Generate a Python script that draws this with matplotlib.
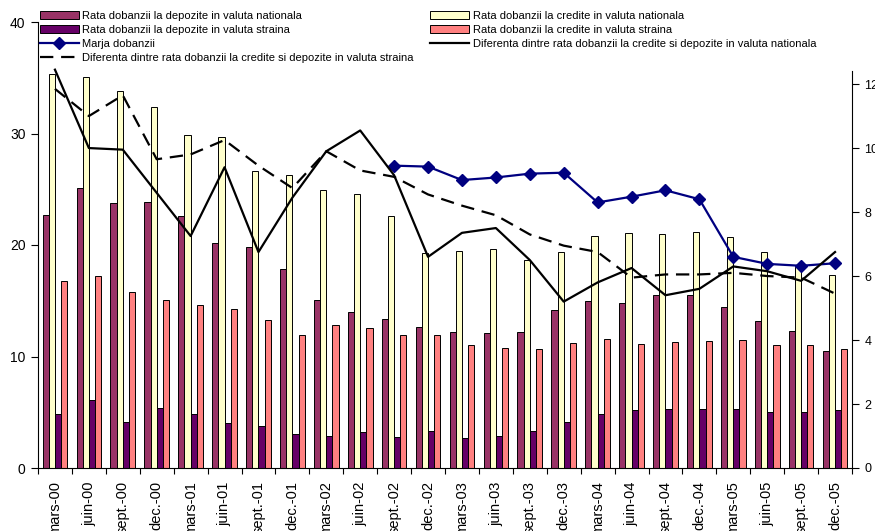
import matplotlib
matplotlib.use("Agg")
import matplotlib.pyplot as plt
import numpy as np

plt.rcParams['font.family'] = ['Liberation Sans', 'DejaVu Sans']

perioade = ['mars-00', 'juin-00', 'sept.-00', 'dec.-00',
            'mars-01', 'juin-01', 'sept.-01', 'dec.-01',
            'mars-02', 'juin-02', 'sept.-02', 'dec.-02',
            'mars-03', 'juin-03', 'sept.-03', 'dec.-03',
            'mars-04', 'juin-04', 'sept.-04', 'dec.-04',
            'mars-05', 'juin-05', 'sept.-05', 'dec.-05']

# rate (%), axa stanga
dep_nat = [22.7, 25.1, 23.8, 23.9, 22.6, 20.2, 19.8, 17.85,
           15.1, 14.0, 13.4, 12.65, 12.2, 12.1, 12.2, 14.2,
           15.0, 14.8, 15.5, 15.5, 14.4, 13.2, 12.3, 10.5]
cred_nat = [35.3, 35.1, 33.8, 32.4, 29.9, 29.65, 26.6, 26.25,
            24.9, 24.55, 22.6, 19.3, 19.5, 19.6, 18.65, 19.4,
            20.8, 21.1, 20.95, 21.15, 20.7, 19.4, 18.0, 17.3]
dep_str = [4.85, 6.1, 4.15, 5.4, 4.8, 4.0, 3.8, 3.05,
           2.9, 3.25, 2.8, 3.3, 2.7, 2.9, 3.3, 4.15,
           4.8, 5.2, 5.25, 5.25, 5.25, 5.05, 5.05, 5.2]
cred_str = [16.8, 17.2, 15.8, 15.1, 14.65, 14.3, 13.3, 11.9,
            12.8, 12.6, 11.95, 11.9, 11.0, 10.8, 10.65, 11.2,
            11.6, 11.1, 11.3, 11.35, 11.45, 11.05, 11.05, 10.65]

# diferente (pp), axa dreapta
dif_nat = [12.45, 10.0, 9.95, 8.6, 7.25, 9.4, 6.75, 8.45,
           9.9, 10.55, 9.15, 6.6, 7.35, 7.5, 6.5, 5.2,
           5.8, 6.25, 5.4, 5.6, 6.3, 6.15, 5.85, 6.75]
dif_str = [11.85, 11.0, 11.65, 9.65, 9.8, 10.25, 9.45, 8.75,
           9.9, 9.3, 9.1, 8.55, 8.2, 7.9, 7.3, 6.95,
           6.75, 5.95, 6.05, 6.05, 6.1, 6.0, 5.95, 5.45]
marja = [None] * 10 + [9.45, 9.42, 9.0, 9.08, 9.2, 9.23,
                       8.3, 8.48, 8.68, 8.4, 6.6, 6.38, 6.32, 6.4]

fig = plt.figure(figsize=(8.75, 5.31), dpi=100)
ax = fig.add_axes([38/875, 63/531, 814/875, 446/531])
ax2 = ax.twinx()

x = np.arange(len(perioade))
w = 0.182
ax.bar(x - 1.5*w, dep_nat, w, color='#993366', edgecolor='black', linewidth=0.7,
       label='Rata dobanzii la depozite in valuta nationala')
ax.bar(x - 0.5*w, cred_nat, w, color='#FFFFCC', edgecolor='black', linewidth=0.7,
       label='Rata dobanzii la credite in valuta nationala')
ax.bar(x + 0.5*w, dep_str, w, color='#660066', edgecolor='black', linewidth=0.7,
       label='Rata dobanzii la depozite in valuta straina')
ax.bar(x + 1.5*w, cred_str, w, color='#FF8080', edgecolor='black', linewidth=0.7,
       label='Rata dobanzii la credite in valuta straina')

marja_y = np.array([np.nan if v is None else v for v in marja])
ax2.plot(x, marja_y, color='#000080', lw=1.6, marker='D', ms=6,
         label='Marja dobanzii')
ax2.plot(x, dif_nat, color='black', lw=1.6,
         label='Diferenta dintre rata dobanzii la credite si depozite in valuta nationala')
ax2.plot(x, dif_str, color='black', lw=1.6, dashes=(6, 3.5),
         label='Diferenta dintre rata dobanzii la credite si depozite in valuta straina')

ax.set_xlim(-0.5, len(perioade) - 0.5)
ax.set_ylim(0, 40)
ax.set_yticks([0, 10, 20, 30, 40])
ax2.set_ylim(0, 13.94)
ax2.set_yticks([0, 2, 4, 6, 8, 10, 12])
ax2.spines['right'].set_bounds(0, 12.4)

ax.spines['top'].set_visible(False)
ax.spines['right'].set_visible(False)
ax2.spines['top'].set_visible(False)
ax2.spines['left'].set_visible(False)
ax2.spines['bottom'].set_visible(False)

ax.set_xticks(np.arange(len(perioade) + 1) - 0.5)
ax.set_xticklabels([])
ax.set_xticks(x, minor=True)
ax.set_xticklabels(perioade, minor=True, rotation=90, fontsize=10.5)
ax.tick_params(axis='x', which='minor', length=0, pad=9.5)
ax.tick_params(axis='x', which='major', length=4, direction='out')
ax.tick_params(axis='y', labelsize=10, length=5, pad=4)
ax2.tick_params(axis='y', labelsize=9, length=5, pad=4)

h1, l1 = ax.get_legend_handles_labels()
h2, l2 = ax2.get_legend_handles_labels()
hand = [h1[0], h1[2], h2[0], h2[2], h1[1], h1[3], h2[1]]
lab = [l1[0], l1[2], l2[0], l2[2], l1[1], l1[3], l2[1]]
fig.legend(hand, lab, loc='upper left', bbox_to_anchor=(40/875, 1 - 11/531),
           ncol=2, frameon=False, fontsize=8, borderpad=0, borderaxespad=0,
           handlelength=3.5, handletextpad=0.3, labelspacing=0.35,
           columnspacing=1.5)

fig.savefig('out.png', dpi=100)
